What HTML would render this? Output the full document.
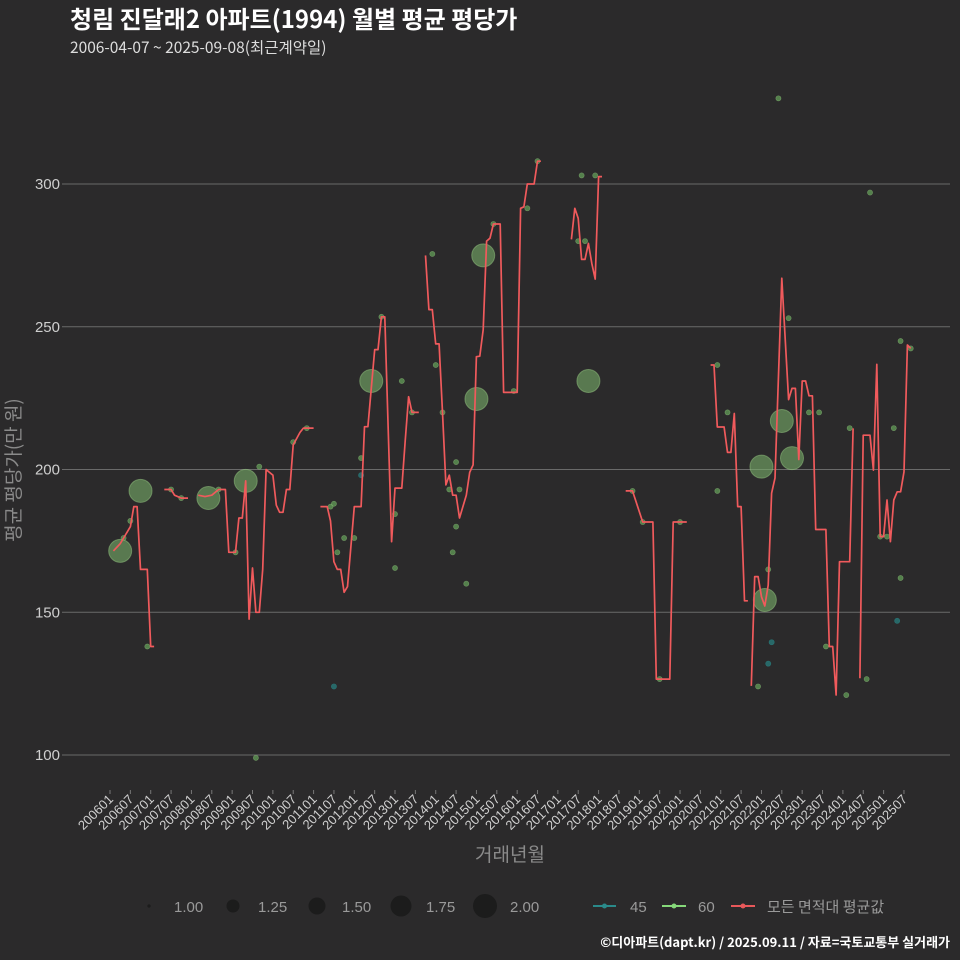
<!DOCTYPE html>
<html><head><meta charset="utf-8"><style>
html,body{margin:0;padding:0;background:#2b2a2b;}
svg{display:block;font-family:"Liberation Sans","Noto Sans CJK KR",sans-serif;}
</style></head><body>
<svg id="chart" width="960" height="960" viewBox="0 0 960 960">
<rect width="960" height="960" fill="#2b2a2b"/>
<text x="70" y="28" fill="#ffffff" font-size="24" font-weight="bold" font-family="'Noto Sans CJK KR',sans-serif">청림 진달래2 아파트(1994) 월별 평균 평당가</text>
<text x="70" y="53" fill="#dddddd" font-size="15.5" font-family="'Noto Sans CJK KR',sans-serif">2006-04-07 ~ 2025-09-08(최근계약일)</text>
<g id="grid"></g><g id="xticks"></g><g id="points"></g><g id="lines"></g>
<text transform="translate(20,470) rotate(-90)" text-anchor="middle" fill="#8a8a8a" font-size="19" font-family="'Noto Sans CJK KR',sans-serif">평균 평당가(만 원)</text>
<text x="510" y="861" text-anchor="middle" fill="#8a8a8a" font-size="19" font-family="'Noto Sans CJK KR',sans-serif">거래년월</text>
<g>
<circle cx="149" cy="906" r="1.6" fill="#1c1c1c"/><text x="174" y="912" fill="#9a9a9a" font-size="15">1.00</text>
<circle cx="233" cy="906" r="6.5" fill="#1c1c1c"/><text x="258" y="912" fill="#9a9a9a" font-size="15">1.25</text>
<circle cx="317" cy="906" r="8.5" fill="#1c1c1c"/><text x="342" y="912" fill="#9a9a9a" font-size="15">1.50</text>
<circle cx="401" cy="906" r="10.5" fill="#1c1c1c"/><text x="426" y="912" fill="#9a9a9a" font-size="15">1.75</text>
<circle cx="485" cy="906" r="12" fill="#1c1c1c"/><text x="510" y="912" fill="#9a9a9a" font-size="15">2.00</text>
</g>
<g>
<line x1="593" y1="906" x2="616" y2="906" stroke="#2a8a8a" stroke-width="2"/><circle cx="604.5" cy="906" r="2.5" fill="#2a8a8a"/><text x="630" y="912" fill="#9a9a9a" font-size="15">45</text>
<line x1="662" y1="906" x2="686" y2="906" stroke="#86d97a" stroke-width="2"/><circle cx="674" cy="906" r="2.5" fill="#86d97a"/><text x="698" y="912" fill="#9a9a9a" font-size="15">60</text>
<line x1="731" y1="906" x2="755" y2="906" stroke="#e8585a" stroke-width="2"/><circle cx="743" cy="906" r="2.5" fill="#e8585a"/><text x="767" y="912" fill="#9a9a9a" font-size="15" font-family="'Noto Sans CJK KR',sans-serif">모든 면적대 평균값</text>
</g>
<text x="950" y="947" text-anchor="end" fill="#ffffff" font-size="13" font-weight="bold" font-family="'Noto Sans CJK KR',sans-serif">©디아파트(dapt.kr) / 2025.09.11 / 자료=국토교통부 실거래가</text>
</svg>
<script>
const yTicks=[100,150,200,250,300];
const lineMonths=[1,3,4,6,7,8,9,11,12,13,null,16,18,19,21,23,null,26,28,30,32,34,35,37,38,39,40,41,42,43,44,45,46,47,48,49,50,51,52,53,54,56,57,60,null,62,64,65,66,67,68,69,70,72,74,75,76,78,79,80,81,83,84,86,87,88,89,91,null,93,94,95,96,97,98,99,100,101,102,103,105,106,107,108,109,110,111,112,113,115,116,120,121,122,123,125,126,127,null,136,137,138,139,140,141,142,143,144,145,null,152,154,157,160,161,165,166,170,null,177,178,179,181,182,183,184,185,186,187,188,null,189,190,191,192,193,194,195,196,198,200,201,202,203,204,205,206,207,208,211,212,213,214,215,218,219,null,221,222,224,225,226,227,228,229,230,231,232,233,234,235,236];
const lineValues=[171.5,174,176,180,187,187,165,165,138,138,null,193,193,191,190,190,null,191,190.5,191,193,193,171,171,183,183,196,147.6,165.5,150,150,165,200,199,198,187.5,185,185,193,193,208.6,213,214.5,214.5,null,187,187,182,167.7,165,165,157,159,187,187,215,215,242,242,253.5,253.5,174.7,193.5,193.5,210,225.5,220,220,null,275,256,256,244,244,220,194.6,198,191,191,183,191,199,201.6,239.5,239.7,249,280,281,286,286,227,227,291.5,292,300,300,308,308,null,280.6,291.5,288,273.6,273.6,279.2,272.2,266.7,302.6,302.6,null,192.5,192.5,181.6,181.6,126.6,126.6,181.6,181.6,null,236.6,236.6,214.9,214.9,206,206,219.6,187,187,154,154,null,124.2,162.5,162.5,155.4,152.2,159.5,191.7,197,267,224.5,228.4,228.4,203.5,231,231,225.8,225.8,179,179,138,138,121,167.7,167.7,214.4,null,126.9,212,212,199.8,236.8,176.5,176.5,189.3,174.7,189.3,192.2,192.2,199.2,243.6,242.4];
const ptMonths=[3,9,29,40,77,108,110,141,193,192,198,201,4,6,11,18,21,32,37,43,44,54,58,65,66,67,69,72,74,80,84,84,86,89,95,96,98,100,101,102,102,103,105,113,119,123,126,139,138,140,143,154,157,162,168,179,179,182,191,194,200,197,206,209,211,217,218,223,224,227,229,233,233,231,236,66,195,194,232,74];
const ptValues=[171.5,192.5,190,196,231,224.7,275,231,154.3,201,217,204,176,182,138,193,190,193,171,99,201,209.6,214.5,187,188,171,176,176,204,253.5,184.4,165.5,231,220,275.5,236.6,220,193,171,180,202.6,193,160,286,227.5,291.5,308,303,280,280,303,192.5,181.6,126.6,181.6,236.6,192.5,220,124,165,253,330,220,220,138,121,214.5,126.6,297,176.5,176.5,162,245,214.5,242.4,124,139.5,132,147,198];
const ptSizes=[2,2,2,2,2,2,2,2,2,2,2,2,1,1,1,1,1,1,1,1,1,1,1,1,1,1,1,1,1,1,1,1,1,1,1,1,1,1,1,1,1,1,1,1,1,1,1,1,1,1,1,1,1,1,1,1,1,1,1,1,1,1,1,1,1,1,1,1,1,1,1,1,1,1,1,1,1,1,1,1];
const ptAreas=[60,60,60,60,60,60,60,60,60,60,60,60,60,60,60,60,60,60,60,60,60,60,60,60,60,60,60,60,60,60,60,60,60,60,60,60,60,60,60,60,60,60,60,60,60,60,60,60,60,60,60,60,60,60,60,60,60,60,60,60,60,60,60,60,60,60,60,60,60,60,60,60,60,60,60,45,45,45,45,45];
const xTickLabels=[];
for(let yr=2006;yr<=2025;yr++){xTickLabels.push(yr+'01');xTickLabels.push(yr+'07');}

const NS='http://www.w3.org/2000/svg';
function xS(m){return 110+m*3.393;}
function yS(v){return 755-(v-100)*2.855;}
function mk(tag,attrs,parent){const e=document.createElementNS(NS,tag);for(const k in attrs)e.setAttribute(k,attrs[k]);parent.appendChild(e);return e;}
const grid=document.getElementById('grid');
yTicks.forEach(t=>{
  const l=mk('line',{x1:66,x2:950,y1:yS(t),y2:yS(t),stroke:'#6a6a6a','stroke-width':1.1},grid);
  
  
  const tk=mk('line',{x1:62,x2:66,y1:yS(t),y2:yS(t),stroke:'#6a6a6a'},grid);
  
  
  const tx=mk('text',{x:60,y:yS(t)+5,'text-anchor':'end',fill:'#cfcfcf','font-size':15},grid);
  tx.textContent=t;
  
  
});
const xt=document.getElementById('xticks');
xTickLabels.forEach((lab,i)=>{
  const x=xS(i*6);
  const tk=mk('line',{x1:x,x2:x,y1:790,y2:794,stroke:'#777'},xt);
  
  
  const t=mk('text',{transform:'translate('+(x+4)+',800) rotate(-45)','text-anchor':'end',fill:'#d0d0d0','font-size':13},xt);
  t.textContent=lab;
  
  
});
const pg=document.getElementById('points');
ptMonths.forEach((m,i)=>{
  const big=ptSizes[i]>=2;
  const teal=ptAreas[i]===45;
  const c=mk('circle',{cx:xS(m),cy:yS(ptValues[i]),r:big?11.5:2.6,
    fill:teal?'rgba(40,120,120,0.8)':(big?'rgba(120,175,105,0.6)':'rgba(95,150,85,0.8)'),
    stroke:teal?'rgba(40,120,120,0.9)':'rgba(150,200,130,0.5)','stroke-width':big?1:0.6},pg);
  
  
});
const lg=document.getElementById('lines');
let d='',pen=false;
lineMonths.forEach((m,i)=>{
  const v=lineValues[i];
  if(m===null||v===null){pen=false;return;}
  d+=(pen?'L':'M')+xS(m).toFixed(1)+','+yS(v).toFixed(1)+' ';pen=true;
});
const p=mk('path',{d:d,fill:'none',stroke:'#f05a5c','stroke-width':1.7,'stroke-linejoin':'round'},lg);


</script>
</body></html>
